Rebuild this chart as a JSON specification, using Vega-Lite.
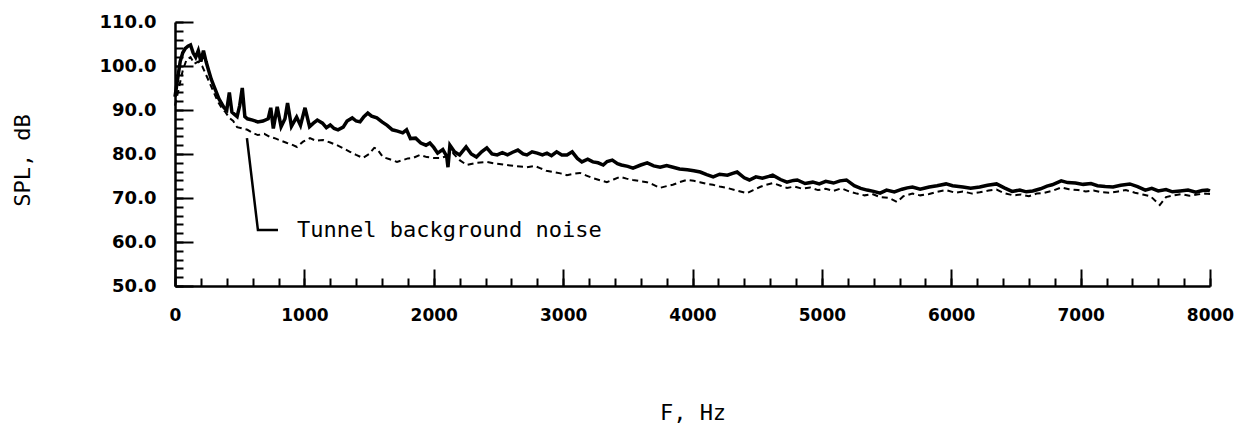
{
  "$schema": "https://vega.github.io/schema/vega-lite/v6.json",
  "autosize": {"type": "none"},
  "width": 1035,
  "height": 264,
  "padding": {"left": 175, "top": 22, "right": 28, "bottom": 143},
  "background": "white",
  "config": {"view": {"stroke": null}},
  "datasets": {
    "model": [
      {"f":0,"db":93},{"f":20,"db":97},{"f":40,"db":101},{"f":60,"db":103},{"f":80,"db":104},{"f":100,"db":104.5},{"f":120,"db":104.8},{"f":140,"db":103},{"f":160,"db":102},{"f":180,"db":103.5},{"f":200,"db":101},{"f":220,"db":103.5},{"f":240,"db":101},{"f":260,"db":99},{"f":280,"db":97},{"f":300,"db":95.5},{"f":320,"db":94},{"f":340,"db":92.5},{"f":360,"db":91.5},{"f":380,"db":90.5},{"f":400,"db":90},{"f":420,"db":94},{"f":440,"db":89.5},{"f":460,"db":89},{"f":480,"db":88.5},{"f":500,"db":91},{"f":520,"db":95},{"f":540,"db":88.5},{"f":560,"db":88},{"f":600,"db":87.7},{"f":640,"db":87.3},{"f":680,"db":87.5},{"f":720,"db":88},{"f":740,"db":90.5},{"f":760,"db":85.8},{"f":790,"db":90.7},{"f":820,"db":86.2},{"f":850,"db":88},{"f":870,"db":91.6},{"f":900,"db":86.3},{"f":940,"db":88.4},{"f":970,"db":86.5},{"f":1005,"db":90.5},{"f":1040,"db":86.2},{"f":1070,"db":87},{"f":1100,"db":87.7},{"f":1140,"db":87},{"f":1170,"db":86},{"f":1200,"db":86.6},{"f":1230,"db":85.8},{"f":1260,"db":85.5},{"f":1300,"db":86.1},{"f":1330,"db":87.5},{"f":1370,"db":88.2},{"f":1400,"db":87.5},{"f":1430,"db":87.3},{"f":1460,"db":88.5},{"f":1490,"db":89.3},{"f":1520,"db":88.6},{"f":1560,"db":88.2},{"f":1600,"db":87.3},{"f":1640,"db":86.5},{"f":1680,"db":85.5},{"f":1720,"db":85.2},{"f":1760,"db":84.8},{"f":1790,"db":85.5},{"f":1820,"db":83.5},{"f":1860,"db":83.6},{"f":1900,"db":82.5},{"f":1940,"db":82},{"f":1970,"db":82.5},{"f":2000,"db":81.5},{"f":2030,"db":80.2},{"f":2070,"db":81},{"f":2100,"db":79.5},{"f":2110,"db":77},{"f":2125,"db":82},{"f":2160,"db":80.5},{"f":2200,"db":79.8},{"f":2250,"db":81.6},{"f":2290,"db":80},{"f":2330,"db":79.3},{"f":2370,"db":80.5},{"f":2410,"db":81.4},{"f":2450,"db":80},{"f":2490,"db":79.8},{"f":2530,"db":80.3},{"f":2570,"db":79.8},{"f":2610,"db":80.4},{"f":2650,"db":80.9},{"f":2690,"db":80},{"f":2720,"db":79.8},{"f":2760,"db":80.5},{"f":2800,"db":80.2},{"f":2840,"db":79.8},{"f":2875,"db":80.2},{"f":2910,"db":79.6},{"f":2950,"db":80.5},{"f":2990,"db":79.8},{"f":3030,"db":79.8},{"f":3070,"db":80.5},{"f":3110,"db":79},{"f":3145,"db":78.2},{"f":3190,"db":78.8},{"f":3230,"db":78.2},{"f":3270,"db":78},{"f":3310,"db":77.5},{"f":3340,"db":78.3},{"f":3380,"db":78.6},{"f":3420,"db":77.8},{"f":3450,"db":77.5},{"f":3500,"db":77.2},{"f":3540,"db":76.8},{"f":3600,"db":77.5},{"f":3650,"db":78},{"f":3700,"db":77.3},{"f":3750,"db":77},{"f":3800,"db":77.4},{"f":3850,"db":77},{"f":3900,"db":76.6},{"f":3960,"db":76.4},{"f":4010,"db":76.2},{"f":4060,"db":75.9},{"f":4110,"db":75.3},{"f":4160,"db":74.8},{"f":4210,"db":75.4},{"f":4270,"db":75.2},{"f":4310,"db":75.6},{"f":4345,"db":75.9},{"f":4400,"db":74.6},{"f":4440,"db":74.1},{"f":4490,"db":74.8},{"f":4540,"db":74.5},{"f":4590,"db":74.9},{"f":4620,"db":75.2},{"f":4680,"db":74.2},{"f":4730,"db":73.6},{"f":4780,"db":74},{"f":4810,"db":74.1},{"f":4870,"db":73.3},{"f":4930,"db":73.6},{"f":4980,"db":73.2},{"f":5030,"db":73.8},{"f":5090,"db":73.4},{"f":5140,"db":73.9},{"f":5190,"db":74.1},{"f":5250,"db":72.8},{"f":5300,"db":72.2},{"f":5350,"db":71.8},{"f":5400,"db":71.5},{"f":5450,"db":71.1},{"f":5500,"db":71.8},{"f":5560,"db":71.4},{"f":5620,"db":72},{"f":5660,"db":72.3},{"f":5700,"db":72.5},{"f":5760,"db":72},{"f":5830,"db":72.5},{"f":5890,"db":72.8},{"f":5960,"db":73.2},{"f":6010,"db":72.8},{"f":6090,"db":72.5},{"f":6150,"db":72.2},{"f":6220,"db":72.5},{"f":6280,"db":72.9},{"f":6350,"db":73.2},{"f":6410,"db":72.3},{"f":6470,"db":71.5},{"f":6530,"db":71.8},{"f":6580,"db":71.4},{"f":6630,"db":71.6},{"f":6690,"db":72.1},{"f":6740,"db":72.7},{"f":6780,"db":73},{"f":6850,"db":73.9},{"f":6900,"db":73.5},{"f":6960,"db":73.4},{"f":7020,"db":73.1},{"f":7080,"db":73.3},{"f":7130,"db":72.8},{"f":7190,"db":72.6},{"f":7250,"db":72.5},{"f":7310,"db":72.9},{"f":7380,"db":73.2},{"f":7440,"db":72.6},{"f":7500,"db":71.8},{"f":7550,"db":72.2},{"f":7600,"db":71.6},{"f":7660,"db":71.9},{"f":7710,"db":71.4},{"f":7770,"db":71.6},{"f":7830,"db":71.8},{"f":7890,"db":71.3},{"f":7940,"db":71.7},{"f":7980,"db":71.8},{"f":8000,"db":71.6}
    ],
    "background": [
      {"f":0,"db":91},{"f":30,"db":95},{"f":60,"db":99},{"f":90,"db":101.5},{"f":120,"db":102},{"f":150,"db":100.5},{"f":180,"db":101},{"f":210,"db":100},{"f":240,"db":98},{"f":270,"db":96},{"f":300,"db":94},{"f":330,"db":92},{"f":360,"db":90.5},{"f":390,"db":89.5},{"f":420,"db":88.2},{"f":450,"db":87.5},{"f":480,"db":86.1},{"f":520,"db":85.8},{"f":560,"db":85.5},{"f":600,"db":84.8},{"f":640,"db":84.3},{"f":690,"db":84.6},{"f":734,"db":83.9},{"f":780,"db":83.5},{"f":820,"db":83},{"f":866,"db":82.5},{"f":900,"db":82.2},{"f":943,"db":81.6},{"f":990,"db":82.8},{"f":1043,"db":83.6},{"f":1090,"db":83},{"f":1144,"db":83.2},{"f":1200,"db":82.6},{"f":1252,"db":82},{"f":1300,"db":81.3},{"f":1352,"db":80.5},{"f":1400,"db":79.8},{"f":1453,"db":79.1},{"f":1500,"db":80},{"f":1540,"db":81.4},{"f":1561,"db":81.2},{"f":1607,"db":79.3},{"f":1660,"db":78.8},{"f":1716,"db":78.2},{"f":1760,"db":78.6},{"f":1800,"db":79},{"f":1839,"db":79.1},{"f":1893,"db":79.8},{"f":1947,"db":79.3},{"f":2000,"db":79.1},{"f":2048,"db":79.1},{"f":2100,"db":79.5},{"f":2148,"db":80.2},{"f":2200,"db":78.6},{"f":2256,"db":77.5},{"f":2330,"db":78},{"f":2411,"db":78.2},{"f":2480,"db":77.8},{"f":2566,"db":77.5},{"f":2640,"db":77.2},{"f":2720,"db":77},{"f":2780,"db":77.3},{"f":2821,"db":76.8},{"f":2870,"db":76.2},{"f":2921,"db":75.9},{"f":2980,"db":75.6},{"f":3029,"db":75.2},{"f":3080,"db":75.5},{"f":3130,"db":75.7},{"f":3180,"db":75.1},{"f":3230,"db":74.5},{"f":3290,"db":74},{"f":3338,"db":73.6},{"f":3390,"db":74.2},{"f":3439,"db":74.8},{"f":3490,"db":74.4},{"f":3539,"db":74.1},{"f":3600,"db":73.8},{"f":3648,"db":73.6},{"f":3700,"db":73},{"f":3748,"db":72.3},{"f":3800,"db":72.7},{"f":3848,"db":73},{"f":3900,"db":73.6},{"f":3957,"db":74.1},{"f":4010,"db":73.9},{"f":4057,"db":73.6},{"f":4110,"db":73.2},{"f":4158,"db":73},{"f":4210,"db":72.6},{"f":4266,"db":72.3},{"f":4340,"db":71.7},{"f":4420,"db":71.1},{"f":4470,"db":71.8},{"f":4521,"db":72.5},{"f":4570,"db":73},{"f":4621,"db":73.4},{"f":4680,"db":72.8},{"f":4730,"db":72.3},{"f":4790,"db":72.6},{"f":4850,"db":72.1},{"f":4910,"db":72.4},{"f":4970,"db":71.8},{"f":5030,"db":72.1},{"f":5090,"db":71.6},{"f":5150,"db":72.2},{"f":5210,"db":71.5},{"f":5270,"db":71},{"f":5330,"db":70.6},{"f":5390,"db":70.9},{"f":5450,"db":70.2},{"f":5520,"db":70},{"f":5580,"db":69.1},{"f":5630,"db":70.4},{"f":5700,"db":71},{"f":5760,"db":70.6},{"f":5830,"db":70.9},{"f":5890,"db":71.4},{"f":5960,"db":71.8},{"f":6030,"db":71.2},{"f":6090,"db":71.5},{"f":6160,"db":71},{"f":6220,"db":71.3},{"f":6290,"db":71.7},{"f":6350,"db":71.9},{"f":6410,"db":71.1},{"f":6480,"db":70.6},{"f":6540,"db":70.8},{"f":6600,"db":70.4},{"f":6660,"db":71},{"f":6720,"db":71.2},{"f":6780,"db":71.6},{"f":6850,"db":72.4},{"f":6910,"db":72},{"f":6980,"db":71.8},{"f":7040,"db":71.5},{"f":7100,"db":71.7},{"f":7160,"db":71.3},{"f":7230,"db":71.2},{"f":7290,"db":71.5},{"f":7350,"db":71.8},{"f":7420,"db":71.2},{"f":7480,"db":70.8},{"f":7540,"db":70.4},{"f":7612,"db":68.4},{"f":7660,"db":70.2},{"f":7720,"db":70.6},{"f":7780,"db":70.9},{"f":7840,"db":70.5},{"f":7900,"db":70.8},{"f":7960,"db":71},{"f":8000,"db":70.9}
    ],
    "leader": [
      {"f":556,"db":83.6,"o":0},{"f":641,"db":62.7,"o":1},{"f":796,"db":62.7,"o":2}
    ],
    "label": [
      {"f":943,"db":62.7,"text":"Tunnel background noise"}
    ]
  },
  "resolve": {"axis": {"x": "independent", "y": "independent"}},
  "layer": [
    {
      "data": {"name": "background"},
      "mark": {"type": "line", "color": "black", "strokeWidth": 2, "strokeDash": [6, 4]},
      "encoding": {
        "x": {"field": "f", "type": "quantitative", "scale": {"domain": [0, 8000], "nice": false},
          "axis": {"orient": "top", "offset": -264, "values": [0,200,400,600,800,1000,1200,1400,1600,1800,2000,2200,2400,2600,2800,3000,3200,3400,3600,3800,4000,4200,4400,4600,4800,5000,5200,5400,5600,5800,6000,6200,6400,6600,6800,7000,7200,7400,7600,7800,8000],
            "labels": false, "domain": false, "grid": false, "ticks": true, "tickSize": 8, "tickWidth": 2, "tickColor": "black", "title": null}},
        "y": {"field": "db", "type": "quantitative", "scale": {"domain": [50, 110], "nice": false, "zero": false},
          "axis": {"orient": "right", "offset": -1035, "values": [50,52,54,56,58,60,62,64,66,68,70,72,74,76,78,80,82,84,86,88,90,92,94,96,98,100,102,104,106,108,110],
            "labels": false, "domain": false, "grid": false, "ticks": true, "tickSize": 8, "tickWidth": 2, "tickColor": "black", "title": null}}
      }
    },
    {
      "data": {"name": "model"},
      "mark": {"type": "line", "color": "black", "strokeWidth": 3.5},
      "encoding": {
        "x": {"field": "f", "type": "quantitative", "scale": {"domain": [0, 8000], "nice": false},
          "axis": {"orient": "bottom", "offset": 0, "values": [0,1000,2000,3000,4000,5000,6000,7000,8000], "format": "d",
            "grid": false, "domain": true, "domainColor": "black", "domainWidth": 2.5, "ticks": false,
            "labelFont": "DejaVu Sans", "labelFontWeight": "bold", "labelFontSize": 17, "labelColor": "black", "labelPadding": 21, "labelFlush": false,
            "title": "F, Hz", "titleFont": "DejaVu Sans Mono", "titleFontWeight": "normal", "titleFontSize": 22, "titleColor": "black",
            "titleBaseline": "middle", "titleY": 126}},
        "y": {"field": "db", "type": "quantitative", "scale": {"domain": [50, 110], "nice": false, "zero": false},
          "axis": {"orient": "left", "offset": 0, "values": [50,60,70,80,90,100,110], "format": ".1f",
            "grid": false, "domain": true, "domainColor": "black", "domainWidth": 2.5, "ticks": false,
            "labelFont": "DejaVu Sans", "labelFontWeight": "bold", "labelFontSize": 18, "labelColor": "black", "labelPadding": 19,
            "title": "SPL, dB", "titleFont": "DejaVu Sans Mono", "titleFontWeight": "normal", "titleFontSize": 22, "titleColor": "black",
            "titleBaseline": "middle", "titleX": -153, "titleY": 138}}
      }
    },
    {
      "data": {"name": "leader"},
      "mark": {"type": "line", "color": "black", "strokeWidth": 2.5},
      "encoding": {
        "x": {"field": "f", "type": "quantitative",
          "axis": {"orient": "top", "offset": -264, "values": [0,1000,2000,3000,4000,5000,6000,7000,8000],
            "labels": false, "domain": false, "grid": false, "ticks": true, "tickSize": 17, "tickWidth": 2, "tickColor": "black", "title": null}},
        "y": {"field": "db", "type": "quantitative",
          "axis": {"orient": "right", "offset": -1035, "values": [50,60,70,80,90,100,110],
            "labels": false, "domain": false, "grid": false, "ticks": true, "tickSize": 18, "tickWidth": 2, "tickColor": "black", "title": null}},
        "order": {"field": "o"}
      }
    },
    {
      "data": {"name": "label"},
      "mark": {"type": "text", "align": "left", "baseline": "middle", "font": "DejaVu Sans Mono", "fontSize": 22, "color": "black"},
      "encoding": {
        "x": {"field": "f", "type": "quantitative", "axis": null},
        "y": {"field": "db", "type": "quantitative", "axis": null},
        "text": {"field": "text"}
      }
    }
  ]
}
